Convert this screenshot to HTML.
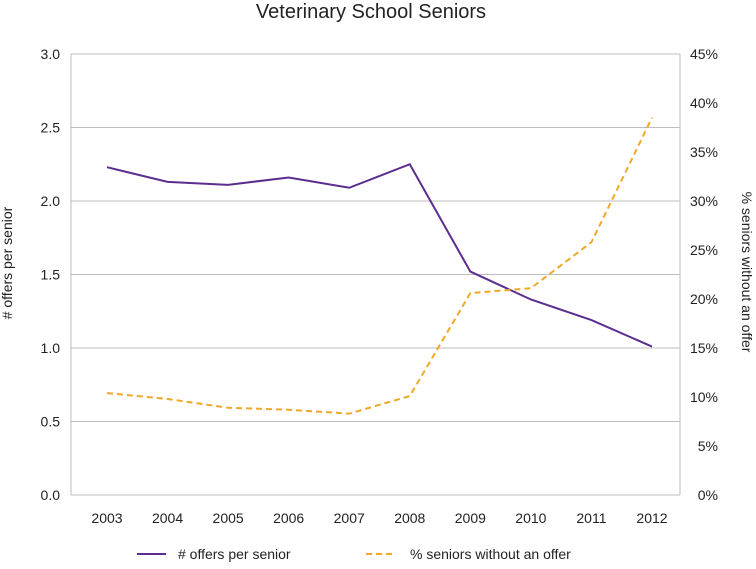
<!DOCTYPE html>
<html><head><meta charset="utf-8"><style>
body{margin:0;background:#fff;font-family:"Liberation Sans",sans-serif;}
svg text{font-family:"Liberation Sans",sans-serif;fill:#222;}
</style></head><body>
<svg id="c" width="756" height="564">
<text x="371" y="18" font-size="20" text-anchor="middle">Veterinary School Seniors</text>
<g id="grid"></g><g id="axes"></g><g id="series"></g>
<text transform="translate(12,263) rotate(-90)" font-size="14" text-anchor="middle"># offers per senior</text>
<text transform="translate(742,272) rotate(90)" font-size="14" text-anchor="middle">% seniors without an offer</text>
<g>
<line x1="137" y1="554" x2="166" y2="554" stroke="#5b2d8e" stroke-width="2"/>
<text x="178" y="559" font-size="14"># offers per senior</text>
<line x1="366" y1="554" x2="396" y2="554" stroke="#f0a829" stroke-width="2" stroke-dasharray="6,4"/>
<text x="410" y="559" font-size="14">% seniors without an offer</text>
</g>
</svg>
<script>
const years=["2003","2004","2005","2006","2007","2008","2009","2010","2011","2012"];
const offers=[2.23,2.13,2.11,2.16,2.09,2.25,1.52,1.33,1.19,1.01];
const pctNoOffer=[10.4,9.8,8.9,8.7,8.3,10.1,20.6,21.1,25.8,38.5];
const leftTicks=[0,0.5,1,1.5,2,2.5,3];
const rightTicks=[0,5,10,15,20,25,30,35,40,45];
const NS="http://www.w3.org/2000/svg";
const L=71,R=680,T=54,B=495;
const x=i=>107+i*(652-107)/(years.length-1);
const yl=v=>B-(v/3)*(B-T);
const yr=v=>B-(v/45)*(B-T);
function mk(t,a,p){const e=document.createElementNS(NS,t);for(const k in a)e.setAttribute(k,a[k]);p.appendChild(e);return e;}
const g=document.getElementById('grid'),ax=document.getElementById('axes'),s=document.getElementById('series');
leftTicks.forEach(v=>{
 const ln=mk('line',{x1:L,x2:R,y1:yl(v),y2:yl(v),stroke:'#bdbdbd','stroke-width':1},g);
 
 
 const t=mk('text',{x:60,y:yl(v)+5,'font-size':14,'text-anchor':'end'},ax);t.textContent=v.toFixed(1);
 
 
});
rightTicks.forEach(v=>{
 const t=mk('text',{x:718,y:yr(v)+5,'font-size':14,'text-anchor':'end'},ax);t.textContent=v+'%';
 
 
});
const la=mk('line',{x1:L,x2:L,y1:T,y2:B,stroke:'#bdbdbd'},ax);


const ra=mk('line',{x1:R,x2:R,y1:T,y2:B,stroke:'#bdbdbd'},ax);


years.forEach((yv,i)=>{
 const t=mk('text',{x:x(i),y:523,'font-size':14,'text-anchor':'middle'},ax);t.textContent=yv;
 
 
});
const p1=mk('polyline',{points:offers.map((v,i)=>x(i)+','+yl(v)).join(' '),fill:'none',stroke:'#5b2d8e','stroke-width':2},s);


const p2=mk('polyline',{points:pctNoOffer.map((v,i)=>x(i)+','+yr(v)).join(' '),fill:'none',stroke:'#f0a829','stroke-width':2,'stroke-dasharray':'6,4'},s);


</script>
</body></html>
